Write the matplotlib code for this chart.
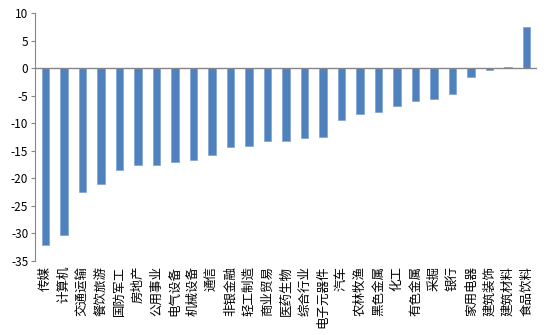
import matplotlib
matplotlib.use("Agg")
import matplotlib.pyplot as plt

plt.rcParams['font.family'] = ['Noto Sans CJK SC', 'DejaVu Sans']
plt.rcParams['axes.unicode_minus'] = False

industries = ["传媒", "计算机", "交通运输", "餐饮旅游", "国防军工", "房地产", "公用事业",
              "电气设备", "机械设备", "通信", "非银金融", "轻工制造", "商业贸易", "医药生物",
              "综合行业", "电子元器件", "汽车", "农林牧渔", "黑色金属", "化工", "有色金属",
              "采掘", "银行", "家用电器", "建筑装饰", "建筑材料", "食品饮料"]
changes = [-32.1, -30.2, -22.4, -21.0, -18.4, -17.5, -17.5,
           -17.0, -16.7, -15.7, -14.4, -14.1, -13.2, -13.2,
           -12.7, -12.5, -9.4, -8.4, -8.0, -6.9, -5.9,
           -5.6, -4.7, -1.6, -0.25, 0.2, 7.5]
y_ticks = [10, 5, 0, -5, -10, -15, -20, -25, -30, -35]

fig = plt.figure(figsize=(5.5, 3.35), dpi=100)
ax = fig.add_axes([0.064, 0.221, 0.912, 0.740])

x = list(range(len(industries)))
ax.bar(x, changes, width=0.4, color="#4F81BD", edgecolor="#7FA3D3", linewidth=0.5, zorder=2)

ax.axhline(0, color="#868686", linewidth=1.0, zorder=3)
ax.set_ylim(-35, 10)
ax.set_xlim(-0.55, len(industries) - 0.45)
ax.set_yticks(y_ticks)
ax.set_yticklabels([str(v) for v in y_ticks], fontsize=8.5)

for s in ["top", "right", "bottom"]:
    ax.spines[s].set_visible(False)
ax.spines["left"].set_color("#868686")
ax.tick_params(axis="y", direction="out", length=3, color="#868686", pad=2)
ax.tick_params(axis="x", length=0)
ax.set_xticks([])

# category labels below the plot, reading bottom-to-top
for xi, name in zip(x, industries):
    ax.text(xi, -35.9, name, rotation=90, ha="center", va="top", fontsize=9,
            transform=ax.transData, clip_on=False)

fig.savefig("out.png", dpi=100)
